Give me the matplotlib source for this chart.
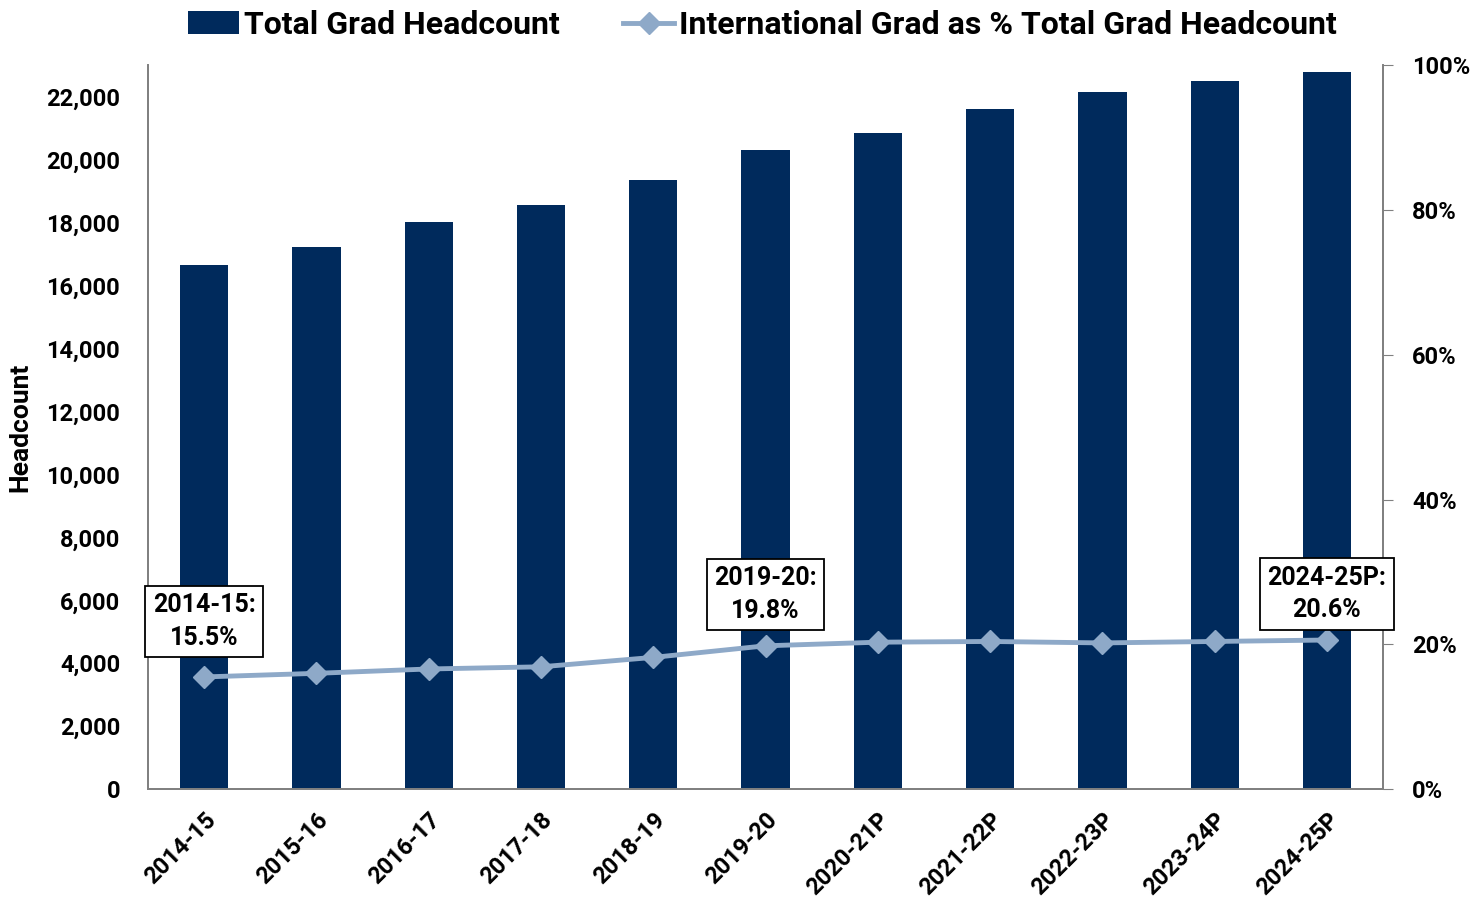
import numpy as np
import matplotlib
matplotlib.use("Agg")
import matplotlib.pyplot as plt
from matplotlib.ticker import FuncFormatter, MultipleLocator

plt.rcParams['font.family'] = ['Roboto', 'DejaVu Sans']
plt.rcParams['font.weight'] = 'bold'
plt.rcParams['axes.labelweight'] = 'bold'

years = ['2014-15', '2015-16', '2016-17', '2017-18', '2018-19', '2019-20',
         '2020-21P', '2021-22P', '2022-23P', '2023-24P', '2024-25P']
headcount = [16650, 17230, 18030, 18570, 19360, 20290,
             20830, 21620, 22160, 22510, 22770]
intl_pct = [15.5, 16.0, 16.6, 16.9, 18.2, 19.8, 20.3, 20.4, 20.2, 20.4, 20.6]
callouts = {0: '2014-15:\n15.5%', 5: '2019-20:\n19.8%', 10: '2024-25P:\n20.6%'}

bar_color = '#002A5C'
line_color = '#8EA9C8'
spine_color = '#808080'

fig = plt.figure(figsize=(14.8, 9.05), dpi=100)
ax = fig.add_axes([0.1, 0.128, 0.8345, 0.8])
ax2 = ax.twinx()

x = np.arange(len(years))
bars = ax.bar(x, headcount, width=0.43, color=bar_color, zorder=2,
              label='Total Grad Headcount')
ax.set_xlim(-0.5, len(years) - 0.5)
ax.set_ylim(0, 23000)
ax.yaxis.set_major_locator(MultipleLocator(2000))
ax.yaxis.set_major_formatter(FuncFormatter(lambda v, p: f'{int(v):,}'))
ax.set_xticks(x)
ax.set_xticklabels(years, rotation=45, ha='right', rotation_mode='anchor', fontsize=17)
ax.tick_params(axis='y', length=0, labelsize=17, pad=20)
ax.tick_params(axis='x', length=0, pad=14)
ax.set_ylabel('Headcount', fontsize=19, labelpad=10)

line, = ax2.plot(x, intl_pct, color=line_color, lw=3.5, marker='D', ms=11,
                 zorder=3, label='International Grad as % Total Grad Headcount')
ax2.set_ylim(0, 100)
ax2.yaxis.set_major_locator(MultipleLocator(20))
ax2.yaxis.set_major_formatter(FuncFormatter(lambda v, p: f'{int(v)}%'))
ax2.tick_params(axis='y', length=7, color=spine_color, labelsize=17, pad=14)

for a in (ax, ax2):
    a.spines['top'].set_visible(False)
    for s in ('left', 'right', 'bottom'):
        a.spines[s].set_color(spine_color)
        a.spines[s].set_linewidth(1.3)

offsets = {0: 40, 5: 37, 10: 33}
for i, txt in callouts.items():
    ax2.annotate(txt, (x[i], intl_pct[i]), xytext=(0, offsets[i]), textcoords='offset points',
                 ha='center', va='center', fontsize=18, linespacing=1.45,
                 bbox=dict(boxstyle='square,pad=0.3', fc='white', ec='black', lw=1.3),
                 zorder=5)

fig.legend(handles=[bars, line], loc='upper center', bbox_to_anchor=(0.515, 1.021),
           ncol=2, frameon=False, fontsize=23, handlelength=1.6, handletextpad=0.15,
           columnspacing=2.0)

fig.savefig('out.png', dpi=100)
